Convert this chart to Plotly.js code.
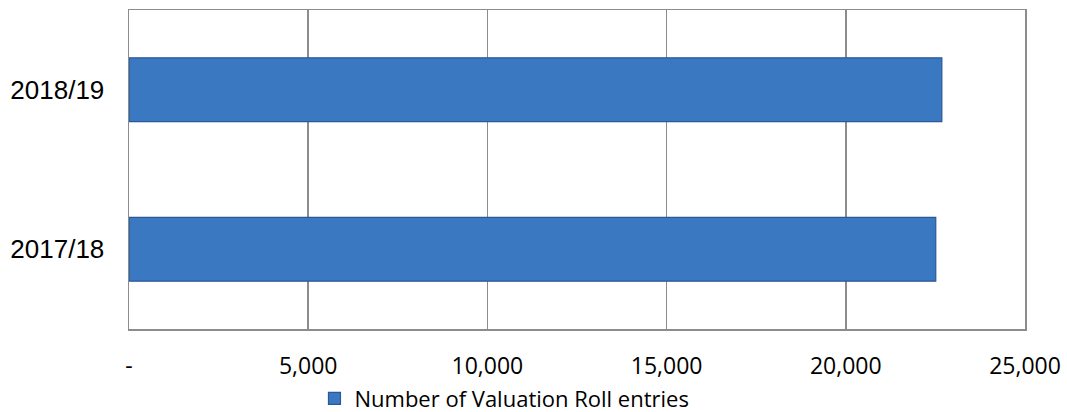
<!DOCTYPE html>
<html>
<head>
<meta charset="utf-8">
<script src="https://cdn.plot.ly/plotly-3.0.1.min.js"></script>
<style>html,body{margin:0;padding:0;background:#fff;}#chart{width:1067px;height:412px;}</style>
</head>
<body>
<div id="chart"></div>
<script>
const categories = ['2017/18', '2018/19'];
const entries = [22510, 22680];
const seriesName = 'Number of Valuation Roll entries';
const tickValues = [0, 5000, 10000, 15000, 20000, 25000];
const tickLabels = ['-', '5,000', '10,000', '15,000', '20,000', '25,000'];

const trace = {
  type: 'bar',
  orientation: 'h',
  y: categories,
  x: entries,
  name: seriesName,
  marker: {color: '#3b78c2', line: {color: '#2a5a96', width: 1.2}},
  hoverinfo: 'x+y'
};

const layout = {
  width: 1067, height: 412,
  margin: {l: 129, r: 42, t: 10, b: 83, autoexpand: false},
  paper_bgcolor: '#fff', plot_bgcolor: '#fff',
  bargap: 0.6,
  showlegend: true,
  legend: {
    orientation: 'h', x: 0.207, xanchor: 'left', y: -0.218, yanchor: 'middle',
    font: {family: 'Open Sans', size: 22, color: '#000'},
    itemwidth: 30
  },
  xaxis: {
    range: [0, 25000],
    tickmode: 'array', tickvals: tickValues, ticktext: tickLabels,
    showgrid: true, gridcolor: '#8c8c8c', gridwidth: 1.5,
    showline: true, linecolor: '#8c8c8c', linewidth: 1.5, mirror: true,
    zeroline: false, ticks: '',
    ticklabelstandoff: 16,
    tickfont: {family: 'Open Sans', size: 23, color: '#000'}
  },
  yaxis: {
    type: 'category',
    showgrid: false,
    showline: true, linecolor: '#8c8c8c', linewidth: 1.5, mirror: true,
    zeroline: false, ticks: '',
    ticklabelstandoff: 18,
    tickfont: {family: 'Liberation Sans', size: 26, color: '#000'}
  }
};

Plotly.newPlot('chart', [trace], layout, {displayModeBar: false, staticPlot: true});
</script>
</body>
</html>
